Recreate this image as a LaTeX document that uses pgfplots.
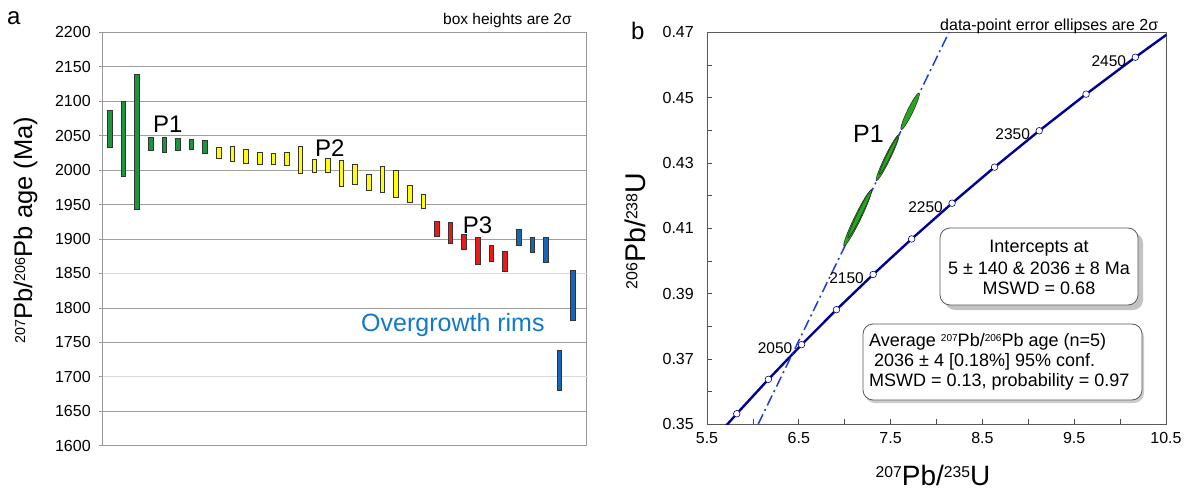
\documentclass[border=0pt]{standalone}
\usepackage{fontspec}
\setmainfont{Liberation Sans}
\usepackage{graphicx}
\usepackage{pgfplots}
\pgfplotsset{compat=1.18}
\usepackage{pgfplotstable}
\usetikzlibrary{shadows}

\definecolor{grpgreen}{RGB}{28,150,60}
\definecolor{grpyellow}{RGB}{255,255,0}
\definecolor{grpred}{RGB}{235,25,25}
\definecolor{grpblue}{RGB}{22,104,180}
\definecolor{rimblue}{RGB}{20,120,200}
\definecolor{concordia}{RGB}{0,0,150}
\definecolor{discordia}{RGB}{30,60,220}
\definecolor{ellgreen}{RGB}{40,165,30}

% small raised isotope numbers
\newcommand{\sps}[1]{\raisebox{0.27em}{\scalebox{0.56}{#1}}}

% 207Pb/206Pb ages (Ma): box bottom and top (2 sigma), by analysis rank
\pgfplotstableread{
k lo hi
1 2032.5 2087.2
2 1990.4 2099.3
3 1943.5 2139.0
4 2029.2 2047.0
5 2026.3 2048.0
6 2028.7 2045.6
7 2030.2 2044.1
8 2024.4 2042.7
}\agegreen
\pgfplotstableread{
k lo hi
9 2017.0 2033.0
10 2012.8 2034.0
11 2009.9 2030.2
12 2008.4 2025.8
13 2008.9 2024.8
14 2007.0 2026.3
15 1995.4 2034.0
16 1996.8 2015.7
17 1996.8 2017.6
18 1976.9 2014.2
19 1979.4 2008.4
20 1970.7 1994.3
21 1967.2 2004.9
22 1961.0 1999.7
23 1953.3 1978.4
24 1944.0 1964.3
}\ageyellow
\pgfplotstableread{
k lo hi
25 1904.4 1925.1
26 1893.2 1924.2
27 1885.0 1906.8
28 1862.7 1902.5
29 1867.1 1890.3
30 1853.6 1881.6
}\agered
\pgfplotstableread{
k lo hi
31 1891.3 1914.1
32 1880.7 1902.5
33 1866.2 1901.9
34 1679.8 1737.9
35 1781.4 1855.0
}\ageblue

% P1 analyses: ellipse centres and semi-axes (pt)
\pgfplotstableread{
x y a b
7.140 0.4131 31.0 3.2
7.165 0.4145 27.0 2.2
7.467 0.4316 25.5 2.8
7.480 0.4323 21.0 1.9
7.712 0.4458 20.5 2.8
}\ellipses

% pt per Ma on the age axis (413.4pt for 600 Ma)
\pgfmathsetmacro\ageunit{413.4/600}

\pgfdeclareplotmark{agebox}{%
  \pgfpathrectanglecorners{\pgfpoint{-2.3pt}{-\bh pt}}{\pgfpoint{2.3pt}{\bh pt}}%
  \pgfusepathqfillstroke}
\pgfdeclareplotmark{errell}{%
  \pgfpathellipse{\pgfpointorigin}{\pgfpoint{\ea pt}{0pt}}{\pgfpoint{0pt}{\eb pt}}%
  \pgfusepathqfillstroke}

\pgfplotsset{
  ageplot/.style={only marks, mark=agebox,
    mark options={fill=#1, draw=black!80, line width=0.6pt},
    visualization depends on={(\thisrow{hi}-\thisrow{lo})*0.5*\ageunit \as \bh}},
}

\begin{document}
\begin{tikzpicture}
\useasboundingbox (0pt,0pt) rectangle (1191pt,491pt);

% ---------------- panel a ----------------
\begin{axis}[
  at={(102.7pt,45.3pt)}, anchor=south west, scale only axis,
  width=484pt, height=413.4pt,
  xmin=0.49, xmax=36.0, ymin=1600, ymax=2200,
  xtick=\empty,
  ytick={1600,1650,1750,1800,1900,1950,2000,2050,2100,2150,2200},
  extra y ticks={1700,1850},
  extra y tick style={grid=major, major grid style={gray!30, line width=0.8pt}},
  ymajorgrids, major grid style={gray!75, line width=0.8pt},
  axis line style={gray!80, line width=0.9pt},
  ytick pos=left, tick align=outside, major tick length=4pt,
  tick style={gray!80, line width=0.8pt},
  yticklabel style={font=\fontsize{16pt}{19pt}\selectfont, xshift=-4.5pt},
  /pgf/number format/assume math mode=true,
  /pgf/number format/1000 sep={},
]
\addplot[ageplot=grpgreen]  table[x=k, y expr={(\thisrow{lo}+\thisrow{hi})/2}] {\agegreen};
\addplot[ageplot=grpyellow] table[x=k, y expr={(\thisrow{lo}+\thisrow{hi})/2}] {\ageyellow};
\addplot[ageplot=grpred]    table[x=k, y expr={(\thisrow{lo}+\thisrow{hi})/2}] {\agered};
\addplot[ageplot=grpblue]   table[x=k, y expr={(\thisrow{lo}+\thisrow{hi})/2}] {\ageblue};
\end{axis}

\node[anchor=base west, inner sep=0, font=\fontsize{24pt}{28pt}\selectfont] at (7pt,466pt) {a};
\node[anchor=base west, inner sep=0, font=\fontsize{15.5pt}{18pt}\selectfont] at (443pt,466pt) {box heights are 2σ};
\node[anchor=base west, inner sep=0, font=\fontsize{24pt}{28pt}\selectfont] at (153pt,358.3pt) {P1};
\node[anchor=base west, inner sep=0, font=\fontsize{24pt}{28pt}\selectfont] at (315pt,334.3pt) {P2};
\node[anchor=base west, inner sep=0, font=\fontsize{24pt}{28pt}\selectfont] at (462.7pt,257.7pt) {P3};
\node[anchor=base west, inner sep=0, text=rimblue, font=\fontsize{25pt}{29pt}\selectfont] at (361pt,160pt) {Overgrowth rims};
\node[rotate=90, anchor=base, inner sep=0, font=\fontsize{25.5pt}{30pt}\selectfont] at (32pt,261pt) {\sps{207}Pb/\sps{206}Pb age (Ma)};

% ---------------- panel b ----------------
\begin{axis}[
  at={(707pt,66.7pt)}, anchor=south west, scale only axis,
  width=459pt, height=392pt,
  xmin=5.5, xmax=10.5, ymin=0.35, ymax=0.47,
  xtick={5.5,6.5,7.5,8.5,9.5,10.5}, minor xtick={6,7,8,9,10},
  ytick={0.35,0.37,0.39,0.41,0.43,0.45,0.47},
  minor ytick={0.36,0.38,0.40,0.42,0.44,0.46},
  xtick pos=bottom, ytick pos=left, tick align=inside,
  major tick length=5pt, minor tick length=5pt,
  tick style={black!70, line width=0.7pt},
  axis line style={black!65, line width=0.8pt},
  xticklabel style={font=\fontsize{16pt}{19pt}\selectfont, yshift=-4.5pt,
    /pgf/number format/.cd, fixed, fixed zerofill, precision=1},
  yticklabel style={font=\fontsize{16pt}{19pt}\selectfont, xshift=-9.7pt,
    /pgf/number format/.cd, fixed, fixed zerofill, precision=2},
  /pgf/number format/assume math mode=true,
]
% concordia curve, 1900--2500 Ma
\addplot[concordia, line width=2.4pt] coordinates {
  (5.4962,0.3428) (5.7216,0.3500) (5.8241,0.35323) (6.16853,0.36376)
  (6.53036,0.37438) (6.91045,0.38509) (7.30974,0.39587) (7.72917,0.40674)
  (8.16982,0.41769) (8.63266,0.42873) (9.11881,0.43986) (9.62950,0.45107)
  (10.16597,0.46237) (10.5,0.46915) (10.72982,0.47376)};
% discordia through 5 Ma and 2036 Ma intercepts
\addplot[discordia, line width=1.5pt, dash pattern=on 11pt off 4pt on 2pt off 4pt]
  coordinates {(6.0564,0.35) (6.42724,0.37140) (8.1358,0.47)};
% P1 error ellipses
\addplot[only marks, mark=errell,
  mark options={fill=ellgreen, draw=black!85, line width=0.5pt, rotate=64},
  visualization depends on={\thisrow{a} \as \ea},
  visualization depends on={\thisrow{b} \as \eb}]
  table[x=x, y=y] {\ellipses};
% 50 Myr ticks on concordia
\addplot[only marks, mark=*, mark size=3.3pt,
  mark options={fill=white, draw=blue!55!black, line width=0.6pt}] coordinates {
  (5.8241,0.35323) (6.16853,0.36376) (6.53036,0.37438) (6.91045,0.38509)
  (7.30974,0.39587) (7.72917,0.40674) (8.16982,0.41769) (8.63266,0.42873)
  (9.11881,0.43986) (9.62950,0.45107) (10.16597,0.46237)};
\begin{scope}[every node/.style={anchor=east, font=\fontsize{15.5pt}{18pt}\selectfont, xshift=-5.8pt, yshift=-3.5pt}]
\node at (axis cs:6.53036,0.37438) {2050};
\node at (axis cs:7.30974,0.39587) {2150};
\node at (axis cs:8.16982,0.41769) {2250};
\node at (axis cs:9.11881,0.43986) {2350};
\node at (axis cs:10.16597,0.46237) {2450};
\end{scope}
\end{axis}

\node[anchor=base west, inner sep=0, font=\fontsize{24pt}{28pt}\selectfont] at (631pt,451pt) {b};
\node[anchor=base west, inner sep=0, font=\fontsize{16pt}{19pt}\selectfont] at (940pt,460.5pt) {data-point error ellipses are 2σ};
\node[anchor=base west, inner sep=0, font=\fontsize{25pt}{29pt}\selectfont] at (853pt,348.3pt) {P1};
\node[rotate=90, anchor=base, inner sep=0, font=\fontsize{28.5pt}{33pt}\selectfont] at (645pt,260pt) {\sps{206}Pb/\sps{238}U};
\node[anchor=base, inner sep=0, font=\fontsize{28pt}{33pt}\selectfont] at (933pt,5.5pt) {\sps{207}Pb/\sps{235}U};

% result boxes
\node[draw=black!65, line width=0.8pt, fill=white, rounded corners=10pt,
  minimum width=198pt, minimum height=77pt, inner sep=0,
  drop shadow={shadow xshift=5pt, shadow yshift=-5pt, fill=black!40, opacity=0.6}]
  at (1039pt,224.5pt) {};
\begin{scope}[every node/.style={anchor=base, inner sep=0, font=\fontsize{18pt}{21pt}\selectfont}]
\node at (1039pt,238.7pt) {Intercepts at};
\node at (1039pt,217pt) {5 ± 140 \& 2036 ± 8 Ma};
\node at (1039pt,197pt) {MSWD = 0.68};
\end{scope}

\node[draw=black!65, line width=0.8pt, fill=white, rounded corners=10pt,
  minimum width=279pt, minimum height=76pt, inner sep=0,
  drop shadow={shadow xshift=2pt, shadow yshift=-3pt, fill=black!40, opacity=0.5}]
  at (1002.5pt,129pt) {};
\begin{scope}[every node/.style={anchor=base west, inner sep=0, font=\fontsize{18pt}{21pt}\selectfont}]
\node at (869pt,145pt) {Average \sps{207}Pb/\sps{206}Pb age (n=5)};
\node at (874pt,124.3pt) {2036 ± 4 [0.18\%] 95\% conf.};
\node at (869pt,104.3pt) {MSWD = 0.13, probability = 0.97};
\end{scope}
\end{tikzpicture}
\end{document}
